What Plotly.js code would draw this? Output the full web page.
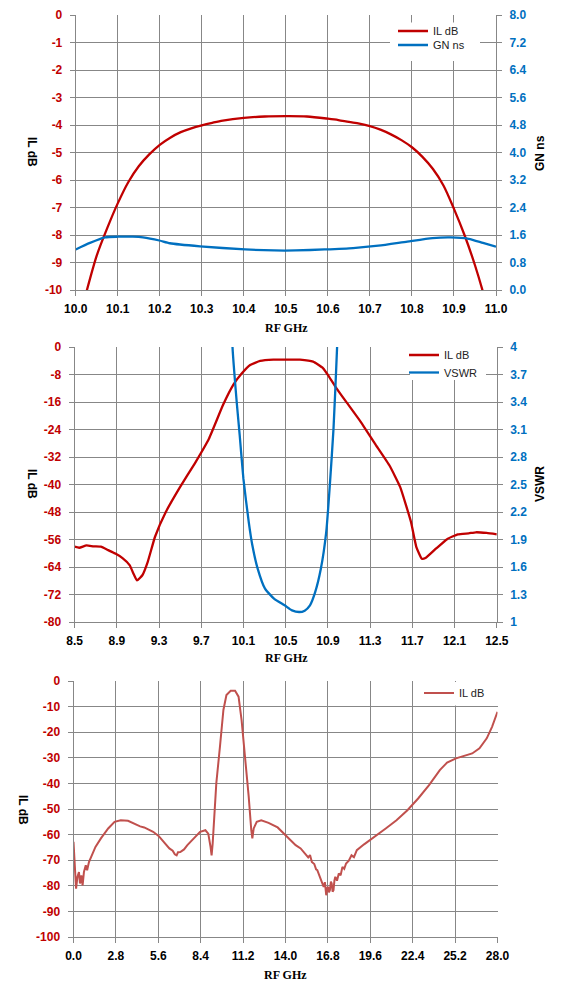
<!DOCTYPE html>
<html>
<head>
<meta charset="utf-8">
<script src="https://cdn.plot.ly/plotly-3.0.1.min.js"></script>
<style>html,body{margin:0;padding:0;background:#fff}#chart{width:564px;height:1000px}</style>
</head>
<body>
<div id="chart"></div>
<script>
// ---- Chart 1: passband IL and group delay ----
const f1IL = [10.015,10.025,10.050,10.075,10.100,10.125,10.150,10.175,10.200,10.225,10.250,10.275,10.300,10.325,10.350,10.400,10.450,10.500,10.550,10.600,10.625,10.650,10.675,10.700,10.725,10.750,10.775,10.800,10.825,10.850,10.875,10.900,10.925,10.950,10.975,10.985];
const il1  = [-10.7,-10.1,-8.75,-7.75,-6.85,-6.08,-5.50,-5.07,-4.72,-4.46,-4.26,-4.12,-4.01,-3.92,-3.84,-3.74,-3.69,-3.68,-3.69,-3.77,-3.82,-3.89,-3.95,-4.04,-4.17,-4.34,-4.55,-4.81,-5.16,-5.60,-6.20,-7.05,-8.00,-9.10,-10.40,-11.0];
const f1GN = [10.000,10.034,10.070,10.100,10.136,10.160,10.199,10.224,10.296,10.403,10.472,10.523,10.592,10.660,10.720,10.789,10.849,10.892,10.935,10.969,11.000];
const gn1  = [1.18,1.37,1.53,1.55,1.55,1.53,1.44,1.36,1.27,1.18,1.15,1.15,1.18,1.22,1.29,1.41,1.51,1.53,1.49,1.37,1.26];
const y1Vals = [0,-1,-2,-3,-4,-5,-6,-7,-8,-9,-10];
const y1Text = ['0','-1','-2','-3','-4','-5','-6','-7','-8','-9','-10'];

// ---- Chart 2: wider IL and VSWR ----
const f2IL = [8.500,8.544,8.613,8.681,8.749,8.818,8.886,8.954,9.023,9.057,9.091,9.142,9.193,9.262,9.364,9.500,9.638,9.774,9.906,10.006,10.085,10.163,10.258,10.383,10.526,10.635,10.760,10.855,10.910,10.970,11.072,11.209,11.345,11.482,11.584,11.687,11.738,11.790,11.824,11.926,12.029,12.131,12.234,12.302,12.404,12.500];
const il2  = [-58.1,-58.4,-57.7,-58.0,-58.1,-59.1,-60.1,-61.4,-63.5,-65.9,-67.9,-66.4,-62.5,-55.2,-48.0,-40.7,-33.9,-26.6,-16.9,-10.9,-7.66,-5.24,-4.07,-3.68,-3.65,-3.68,-4.27,-6.2,-8.6,-11.5,-15.9,-21.7,-28.1,-34.4,-40.7,-50.9,-58.2,-61.6,-61.4,-58.6,-55.9,-54.5,-54.2,-53.9,-54.1,-54.5];
const f2SW = [9.985,9.996,10.038,10.064,10.099,10.150,10.184,10.235,10.304,10.389,10.490,10.560,10.628,10.680,10.730,10.780,10.833,10.884,10.918,10.953,10.987,10.995];
const sw2  = [4.4,4.0,3.37,3.04,2.566,2.09,1.837,1.58,1.364,1.255,1.182,1.127,1.109,1.124,1.182,1.328,1.58,1.98,2.49,3.11,4.0,4.4];
const y3Vals = [0,-8,-16,-24,-32,-40,-48,-56,-64,-72,-80];
const y3Text = ['0','-8','-16','-24','-32','-40','-48','-56','-64','-72','-80'];

// ---- Chart 3: broadband IL ----
const f3 = [0.00,0.05,0.10,0.17,0.26,0.36,0.43,0.52,0.60,0.69,0.81,0.90,1.02,1.21,1.45,1.81,2.29,2.71,3.12,3.60,4.07,4.40,4.67,5.00,5.26,5.62,5.98,6.33,6.55,6.69,6.81,6.90,7.05,7.30,7.52,8.00,8.36,8.71,8.90,9.05,9.12,9.19,9.31,9.43,9.67,9.90,10.10,10.38,10.67,10.90,11.10,11.33,11.57,11.74,11.81,11.90,12.10,12.40,12.88,13.48,14.07,14.67,15.00,15.26,15.50,15.62,15.74,15.90,16.02,16.10,16.22,16.33,16.45,16.52,16.60,16.69,16.75,16.81,16.87,16.93,17.00,17.05,17.11,17.17,17.23,17.29,17.40,17.52,17.64,17.76,17.88,18.00,18.18,18.36,18.52,18.71,19.19,19.90,20.62,21.33,22.05,22.76,23.48,24.19,24.67,25.26,25.86,26.33,26.81,27.29,27.64,28.00];
const il3 = [-62.8,-68.7,-75.2,-81.1,-76.5,-74.6,-79.1,-75.9,-79.8,-74.6,-72.0,-73.9,-70.7,-68.0,-64.8,-61.5,-57.6,-55.0,-54.4,-54.6,-55.9,-56.8,-57.2,-58.3,-58.9,-60.5,-62.8,-65.4,-66.3,-67.7,-68.1,-66.9,-66.8,-65.8,-64.1,-60.9,-58.9,-58.3,-59.6,-64.8,-68.1,-63.5,-51.8,-40.0,-25.7,-11.3,-5.5,-3.8,-3.8,-6.1,-15.3,-29.6,-45.2,-58.3,-61.5,-57.6,-55.0,-54.4,-55.4,-57.2,-60.6,-64.1,-65.4,-67.4,-68.9,-68.0,-70.7,-71.5,-73.6,-73.9,-75.8,-77.2,-79.5,-80.4,-78.6,-83.7,-81.0,-80.4,-82.6,-81.7,-78.4,-79.1,-82.3,-81.7,-78.0,-76.5,-78.0,-75.2,-75.9,-72.6,-73.4,-71.3,-70.2,-68.1,-68.8,-66.1,-63.8,-60.9,-57.6,-54.4,-50.5,-45.9,-40.7,-34.8,-31.9,-30.2,-29.1,-28.3,-26.3,-22.4,-17.9,-12.0];
const y5Vals = [0,-10,-20,-30,-40,-50,-60,-70,-80,-90,-100];
const y5Text = ['0','-10','-20','-30','-40','-50','-60','-70','-80','-90','-100'];

const RED = '#C00000', BLUE = '#0070C0', RED3 = '#C0504D', GRID = '#878787';
const tickFont = (c) => ({family:'Liberation Sans, Arial, sans-serif', size:12, color:c, weight:'bold'});
const legFont = {family:'Liberation Sans, Arial, sans-serif', size:11, color:'#222'};

function xax(dom, anchor, range, dtick, fmt) {
  return {domain:dom, anchor:anchor, range:range, dtick:dtick, tick0:range[0], tickformat:fmt,
    showgrid:true, gridcolor:GRID, gridwidth:1, showline:true, linecolor:GRID, linewidth:1,
    ticks:'outside', ticklen:5, tickcolor:GRID, tickfont:tickFont('#000'), ticklabelstandoff:3, zeroline:false, fixedrange:true};
}
function yax(dom, anchor, range, vals, text, color) {
  return {domain:dom, anchor:anchor, range:range, tickmode:'array', tickvals:vals, ticktext:text,
    showgrid:true, gridcolor:GRID, gridwidth:1, showline:true, linecolor:GRID, linewidth:1,
    ticks:'outside', ticklen:5, tickcolor:GRID, tickfont:tickFont(color), ticklabelstandoff:5, zeroline:false, fixedrange:true};
}
function yaxR(overlay, anchor, range, dtick, fmt, color) {
  return {overlaying:overlay, anchor:anchor, side:'right', range:range, dtick:dtick, tick0:range[0], tickformat:fmt,
    showgrid:false, showline:true, linecolor:GRID, linewidth:1,
    ticks:'outside', ticklen:5, tickcolor:GRID, tickfont:tickFont(color), ticklabelstandoff:5, zeroline:false, fixedrange:true};
}

const D1x=[75.7/564,496/564], D1y=[1-290/1000,1-15/1000];
const D2x=[74.6/564,496.8/564], D2y=[1-622/1000,1-347/1000];
const D3x=[73.5/564,497.5/564], D3y=[1-937/1000,1-681/1000];

const traces = [
  {x:f1IL, y:il1, xaxis:'x', yaxis:'y', name:'IL dB', mode:'lines', line:{color:RED, width:2.3, shape:'spline', smoothing:0.8}, legend:'legend'},
  {x:f1GN, y:gn1, xaxis:'x', yaxis:'y2', name:'GN ns', mode:'lines', line:{color:BLUE, width:2.3, shape:'spline', smoothing:0.6}, legend:'legend2'},
  {x:f2IL, y:il2, xaxis:'x2', yaxis:'y3', name:'IL dB', mode:'lines', line:{color:RED, width:2.3, shape:'spline', smoothing:0.4}, legend:'legend3'},
  {x:f2SW, y:sw2, xaxis:'x2', yaxis:'y4', name:'VSWR', mode:'lines', line:{color:BLUE, width:2.3, shape:'spline', smoothing:0.5}, legend:'legend4'},
  {x:f3, y:il3, xaxis:'x3', yaxis:'y5', name:'IL dB', mode:'lines', line:{color:RED3, width:2}, legend:'legend5'}
];

const axTitle = {family:'Liberation Sans, Arial, sans-serif', size:12, color:'#000', weight:'bold'};
const xTitle = {family:'Liberation Serif, Times New Roman, serif', size:12, color:'#000', weight:'bold'};
function ann(text, px, py, angle, font) {
  return {text:text, xref:'paper', yref:'paper', x:px/564, y:1-py/1000, xanchor:'center', yanchor:'middle', showarrow:false, textangle:angle, font:font};
}
function leg(px, py) {
  return {x:px/564, y:1-py/1000, xanchor:'left', yanchor:'top', bgcolor:'rgba(0,0,0,0)', borderwidth:0, font:legFont, tracegroupgap:0, itemwidth:30};
}
// white legend backdrop boxes (page pixels)
function box(x0, x1, y0, y1) {
  return {type:'rect', xref:'paper', yref:'paper', x0:x0/564, x1:x1/564, y0:1-y1/1000, y1:1-y0/1000, fillcolor:'#fff', line:{width:0}, layer:'above'};
}

const layout = {
  width:564, height:1000, margin:{l:0,r:0,t:0,b:0}, paper_bgcolor:'#fff', plot_bgcolor:'#fff',
  showlegend:true,
  xaxis: xax(D1x,'y',[10,11],0.1,'.1f'),
  yaxis: yax(D1y,'x',[-10,0],y1Vals,y1Text,RED),
  yaxis2: yaxR('y','x',[0,8],0.8,'.1f',BLUE),
  xaxis2: xax(D2x,'y3',[8.5,12.5],0.4,'.1f'),
  yaxis3: yax(D2y,'x2',[-80,0],y3Vals,y3Text,RED),
  yaxis4: yaxR('y3','x2',[1,4],0.3,'',BLUE),
  xaxis3: xax(D3x,'y5',[0,28],2.8,'.1f'),
  yaxis5: yax(D3y,'x3',[-100,0],y5Vals,y5Text,RED),
  legend: leg(393, 16.5),
  legend2: leg(393, 30.5),
  legend3: leg(404, 340.5),
  legend4: leg(404, 358),
  legend5: leg(419, 678.5),
  shapes: [
    box(390, 480, 22.5, 61),
    box(410, 486, 344, 380),
    box(426, 490, 682, 705.5)
  ],
  annotations: [
    ann('RF GHz', 286, 328, 0, xTitle),
    ann('IL dB', 32, 152, 90, axTitle),
    ann('GN ns', 540, 153, -90, axTitle),
    ann('RF GHz', 286, 658, 0, xTitle),
    ann('IL dB', 32, 484, 90, axTitle),
    ann('VSWR', 540, 484, -90, axTitle),
    ann('RF GHz', 285, 975, 0, xTitle),
    ann('IL dB', 23, 810, 90, axTitle)
  ]
};

Plotly.newPlot('chart', traces, layout, {displayModeBar:false, staticPlot:true});
</script>
</body>
</html>
